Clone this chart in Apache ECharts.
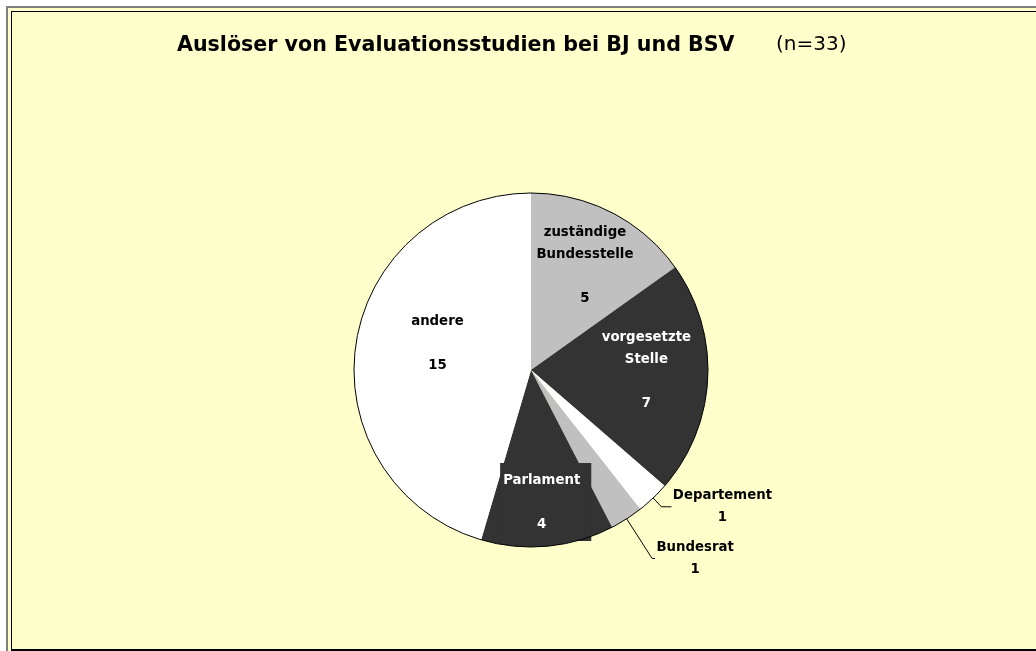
<!DOCTYPE html>
<html>
<head>
<meta charset="utf-8">
<script src="https://cdn.jsdelivr.net/npm/echarts@6/dist/echarts.min.js"></script>
<style>
html,body{margin:0;padding:0;background:#fff;}
#chart{position:absolute;left:0;top:0;width:1036px;height:651px;}
.edge{position:absolute;pointer-events:none;box-sizing:border-box;}
</style>
</head>
<body>
<div id="chart"></div>
<div class="edge" style="left:0;top:0;width:1036px;height:6px;background:#fff"></div>
<div class="edge" style="left:0;top:0;width:6px;height:651px;background:#fff"></div>
<div class="edge" style="left:6px;top:6px;width:1030px;height:645px;border-left:2px solid #808080;border-top:2px solid #808080"></div>
<div class="edge" style="left:11px;top:11px;width:1025px;height:640px;border-left:1px solid #000;border-top:1px solid #000;border-bottom:2px solid #000"></div>
<script>
// Werte aus der Grafik
var names = ['zuständige\nBundesstelle', 'vorgesetzte\nStelle', 'Departement', 'Bundesrat', 'Parlament', 'andere']
var values = [5, 7, 1, 1, 4, 15]
var colors = ['#c0c0c0', '#333333', '#ffffff', '#c0c0c0', '#333333', '#ffffff']
var titleText = 'Auslöser von Evaluationsstudien bei BJ und BSV'
var subText = '(n=33)'

var font = 'DejaVu Sans'
var center = [531, 370]
var radius = 177

// Beschriftung je Segment
function insideLabel(color, offset, extra) {
  var l = {
    show: true,
    position: 'inside',
    formatter: '{b}\n\n{c}',
    color: color,
    fontFamily: font,
    fontWeight: 'bold',
    fontSize: 13.3,
    lineHeight: 22,
    offset: offset
  }
  if (extra) Object.assign(l, extra)
  return l
}
function outsideLabel(w) {
  var tok = {width: w, align: 'center', fontFamily: font, fontWeight: 'bold', fontSize: 13.3, lineHeight: 22, color: '#000'}
  return {
    show: true,
    position: 'outside',
    formatter: '{n|{b}}\n{v|{c}}',
    distanceToLabelLine: 1,
    rich: {n: tok, v: tok}
  }
}
var labels = [
  {label: insideLabel('#000', [12, -23])},
  {label: insideLabel('#fff', [24, -4])},
  {label: outsideLabel(100), labelLine: {show: true, length: 12, length2: 10}},
  {label: outsideLabel(78), labelLine: {show: true, length: 47, length2: 3}},
  {label: insideLabel('#fff', [6, 41], {backgroundColor: '#333333', padding: [6, 11, 6, 3]})},
  {label: insideLabel('#000', [-3, -13])}
]

var pieData = []
for (var i = 0; i < values.length; i++) {
  var d = {name: names[i], value: values[i], itemStyle: {color: colors[i]}}
  Object.assign(d, labels[i])
  pieData.push(d)
}

var chart = echarts.init(document.getElementById('chart'))
var option = {
  backgroundColor: '#ffffcc',
  animation: false,
  title: [{
    text: titleText,
    left: 177,
    top: 35,
    padding: 0,
    textStyle: {fontFamily: font, fontWeight: 'bold', fontSize: 20.6, color: '#000'}
  }, {
    text: subText,
    left: 776,
    top: 35,
    padding: 0,
    textStyle: {fontFamily: font, fontWeight: 'normal', fontSize: 20, color: '#000'}
  }],
  series: [{
    type: 'pie',
    center: center,
    radius: radius,
    startAngle: 90,
    clockwise: true,
    avoidLabelOverlap: true,
    itemStyle: {borderWidth: 0},
    labelLine: {show: false, lineStyle: {color: '#000', width: 1}},
    emphasis: {disabled: true},
    data: pieData
  }, {
    type: 'pie',
    center: center,
    radius: radius,
    silent: true,
    z: 3,
    label: {show: false},
    labelLine: {show: false},
    itemStyle: {color: 'rgba(0,0,0,0)', borderColor: '#000', borderWidth: 1},
    emphasis: {disabled: true},
    data: [{name: '', value: 1}]
  }]
}
chart.setOption(option)
</script>
</body>
</html>
